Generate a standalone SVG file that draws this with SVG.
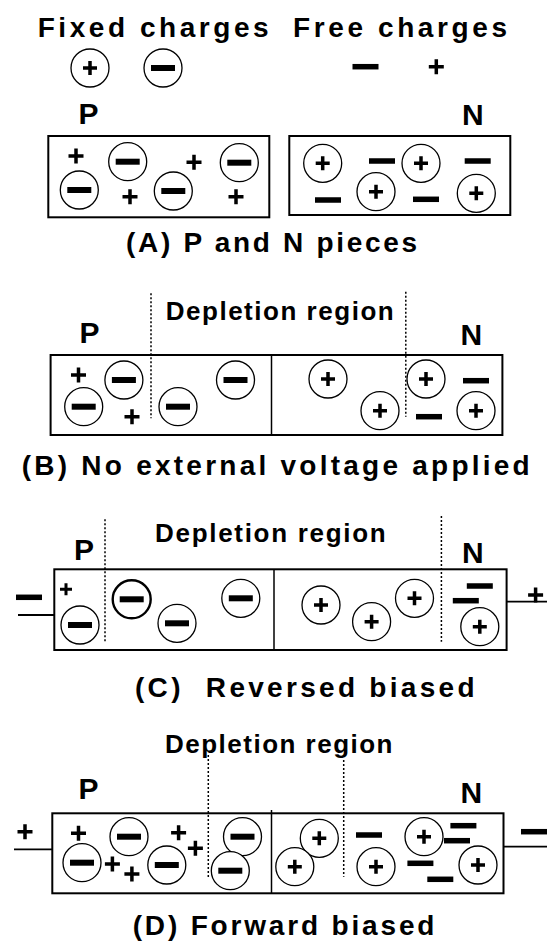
<svg xmlns="http://www.w3.org/2000/svg" width="547" height="942" viewBox="0 0 547 942">
<style>
text{font-family:"Liberation Sans",Arial,sans-serif;font-weight:bold;font-size:28px;fill:#000}
.dep{font-size:26px}
.lbl{font-size:30px}
.box{fill:none;stroke:#000;stroke-width:2}
.div{stroke:#000;stroke-width:1.5}
.dot{stroke:#000;stroke-width:1.5;stroke-dasharray:2 2}
.wire{stroke:#000;stroke-width:1.8}
.ring{fill:#fff;stroke:#000;stroke-width:1.3}
.pl{stroke:#000;stroke-width:3.5;fill:none}
</style>
<defs>
<g id="fp"><circle r="19" class="ring"/><path d="M-7 0H7M0 -7V7" class="pl"/></g>
<g id="fn"><circle r="19" class="ring"/><rect x="-12" y="-3" width="24" height="6"/></g>
<g id="fnb"><circle r="19" class="ring" style="stroke-width:2.4"/><rect x="-12" y="-3" width="24" height="6"/></g>
<g id="p"><path d="M-7.5 0H7.5M0 -7.5V7.5" class="pl"/></g>
<g id="ps"><path d="M-6 0H6M0 -6V6" class="pl" style="stroke-width:3"/></g>
<g id="n"><rect x="-13" y="-2.75" width="26" height="5.5"/></g>
</defs>

<g id="legend">
<text x="37.7" y="37.3" textLength="231" lengthAdjust="spacing">Fixed charges</text>
<text x="293" y="37.3" textLength="214" lengthAdjust="spacing">Free charges</text>
<use href="#fp" x="90" y="68"/>
<use href="#fn" x="163" y="68"/>
<use href="#n" x="365.5" y="66.7"/>
<use href="#p" x="436.3" y="66.7"/>
</g>

<g id="panelA">
<text class="lbl" x="78.5" y="123.5">P</text>
<text class="lbl" x="462" y="125">N</text>
<g id="A-P">
<rect class="box" x="48.3" y="136" width="221" height="81.3"/>
<use href="#p" x="76" y="156"/>
<use href="#fn" x="79.3" y="190"/>
<use href="#fn" x="127.7" y="161.7"/>
<use href="#p" x="130" y="196.7"/>
<use href="#fn" x="173.3" y="191"/>
<use href="#p" x="194" y="162.3"/>
<use href="#fn" x="239.3" y="162.7"/>
<use href="#p" x="236" y="196.7"/>
</g>
<g id="A-N">
<rect class="box" x="289.3" y="136" width="221" height="79"/>
<use href="#fp" x="322.7" y="163.3"/>
<use href="#n" x="382" y="161"/>
<use href="#fp" x="421" y="163.3"/>
<use href="#n" x="477.7" y="161"/>
<use href="#n" x="328" y="200"/>
<use href="#fp" x="376" y="191.7"/>
<use href="#n" x="426" y="199.3"/>
<use href="#fp" x="476.3" y="193.3"/>
</g>
<text x="126" y="251.7" textLength="291" lengthAdjust="spacing">(A) P and N pieces</text>
</g>

<g id="panelB">
<text class="dep" x="165.7" y="320" textLength="228" lengthAdjust="spacing">Depletion region</text>
<text class="lbl" x="79.5" y="343.3">P</text>
<text class="lbl" x="460.6" y="345">N</text>
<g id="B-junction">
<rect class="box" x="50.6" y="355" width="451.8" height="80"/>
<line class="div" x1="271.5" y1="355" x2="271.5" y2="435"/>
<use href="#p" x="78.5" y="375"/>
<use href="#fn" x="123.9" y="380"/>
<use href="#fn" x="83.7" y="406.7"/>
<use href="#p" x="132" y="416.7"/>
<use href="#fn" x="178" y="406.7"/>
<use href="#fn" x="235.5" y="380"/>
<use href="#fp" x="328" y="379"/>
<use href="#fp" x="380" y="410.7"/>
<use href="#fp" x="426" y="379"/>
<use href="#n" x="476" y="380.7"/>
<use href="#n" x="429" y="416.7"/>
<use href="#fp" x="476" y="410.7"/>
</g>
<text x="21.7" y="475" textLength="508" lengthAdjust="spacing">(B) No external voltage applied</text>
</g>

<g id="panelC">
<text class="dep" x="155" y="541.7" textLength="230.6" lengthAdjust="spacing">Depletion region</text>
<text class="lbl" x="74" y="560">P</text>
<text class="lbl" x="462" y="563.3">N</text>
<g id="C-junction">
<rect class="box" x="54.3" y="569.3" width="452.3" height="80.7"/>
<line class="div" x1="274" y1="569.3" x2="274" y2="650"/>
<use href="#ps" x="66" y="589.3"/>
<use href="#fn" x="80" y="625"/>
<use href="#fnb" x="131.7" y="599.3"/>
<use href="#fn" x="177" y="623.3"/>
<use href="#fn" x="240.8" y="598.3"/>
<use href="#fp" x="321" y="605"/>
<use href="#fp" x="371.6" y="621.7"/>
<use href="#fp" x="414.5" y="598.3"/>
<use href="#n" x="479.8" y="586"/>
<use href="#n" x="465.8" y="600.7"/>
<use href="#fp" x="479.8" y="626.7"/>
</g>
<g id="C-terminals">
<use href="#n" x="29" y="597.3"/>
<use href="#p" x="535.6" y="595"/>
</g>
<text x="135" y="697.3" textLength="339.5" lengthAdjust="spacing">(C)&#160; Reversed biased</text>
</g>

<g id="panelD">
<text class="dep" x="165" y="752.7" textLength="227.5" lengthAdjust="spacing">Depletion region</text>
<text class="lbl" x="78.5" y="799">P</text>
<text class="lbl" x="460.6" y="802.5">N</text>
<g id="D-junction">
<rect class="box" x="52.3" y="813.3" width="451.2" height="80"/>
<line class="div" x1="271.5" y1="810" x2="271.5" y2="893.3"/>
<use href="#p" x="78.5" y="833.3"/>
<use href="#fn" x="129" y="836.7"/>
<use href="#p" x="178.6" y="832.7"/>
<use href="#p" x="195.4" y="848.3"/>
<use href="#fn" x="82" y="862.7"/>
<use href="#p" x="112.4" y="864"/>
<use href="#p" x="131.9" y="874"/>
<use href="#fn" x="166.8" y="865"/>
<use href="#fn" x="242.5" y="836.7"/>
<use href="#fn" x="230.3" y="870.7"/>
<use href="#fp" x="319.3" y="838.3"/>
<use href="#fp" x="294.8" y="866.7"/>
<use href="#n" x="369" y="835"/>
<use href="#fp" x="376" y="866.7"/>
<use href="#fp" x="424" y="836.7"/>
<use href="#n" x="463.4" y="825.7"/>
<use href="#n" x="457" y="840.7"/>
<use href="#n" x="420.4" y="863.3"/>
<use href="#n" x="440.3" y="879.3"/>
<use href="#fp" x="478" y="865"/>
</g>
<g id="D-terminals">
<use href="#p" x="25" y="831.7"/>
<use href="#n" x="534" y="831.7"/>
</g>
<text x="132.7" y="935" textLength="301.7" lengthAdjust="spacing">(D) Forward biased</text>
</g>

<g id="connectors">
<line class="dot" x1="151" y1="293.3" x2="151" y2="418.3"/>
<line class="dot" x1="405.8" y1="291.7" x2="405.8" y2="416.7"/>
<line class="dot" x1="105" y1="519.3" x2="105" y2="643.3"/>
<line class="dot" x1="441.4" y1="516" x2="441.4" y2="641.7"/>
<line class="dot" x1="208.3" y1="755" x2="208.3" y2="878.3"/>
<line class="dot" x1="343.7" y1="760" x2="343.7" y2="876.7"/>
<line class="wire" x1="18" y1="615" x2="54.3" y2="615"/>
<line class="wire" x1="506.6" y1="601.7" x2="547" y2="601.7"/>
<line class="wire" x1="14" y1="849.3" x2="52.3" y2="849.3"/>
<line class="wire" x1="503.5" y1="846.7" x2="547" y2="846.7"/>
</g>
</svg>
